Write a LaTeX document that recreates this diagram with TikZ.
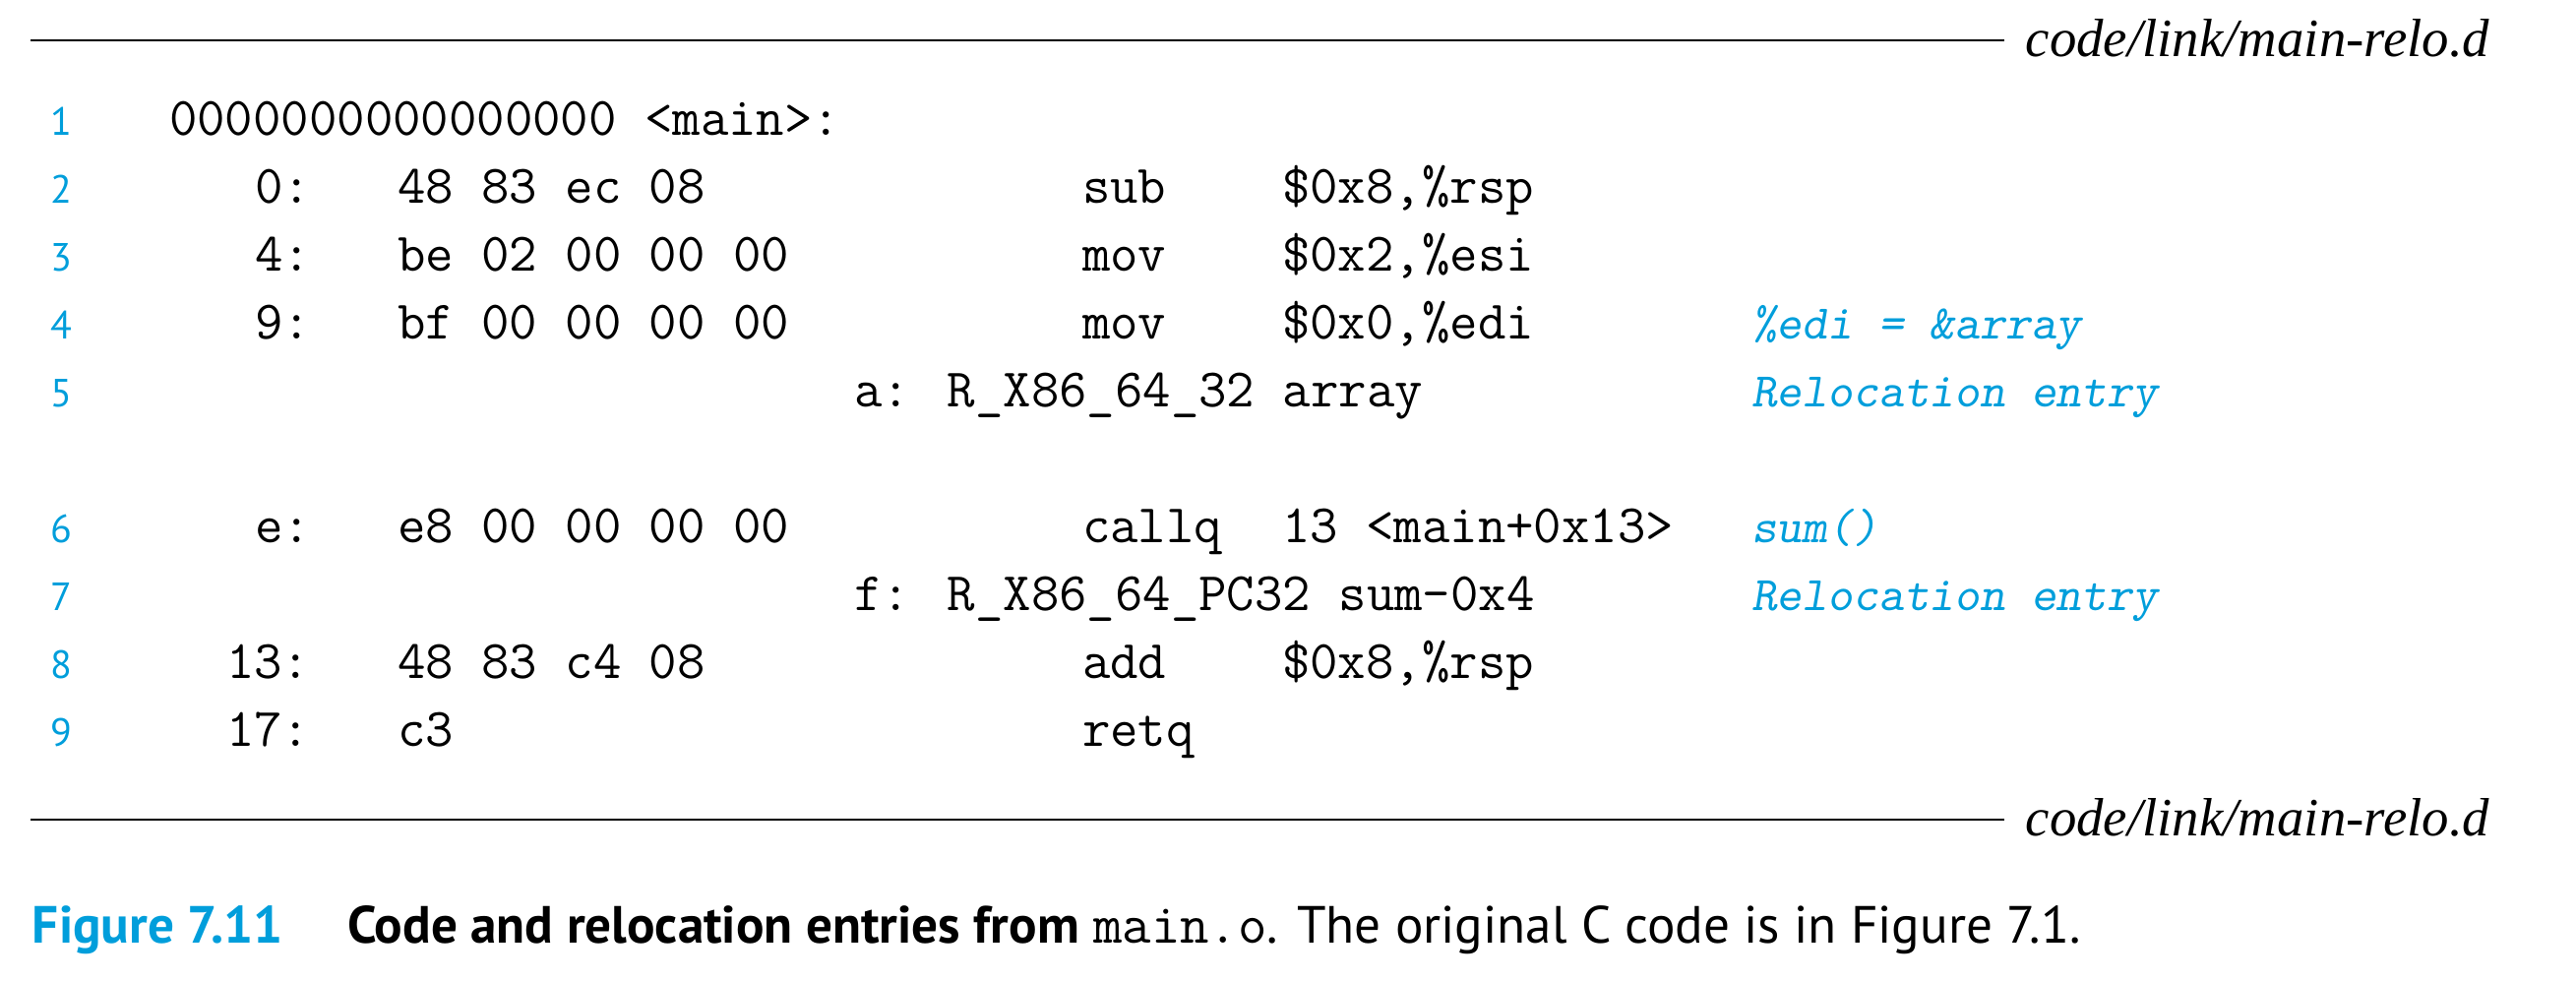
\documentclass[tikz,border=0pt]{standalone}
\usepackage{fontspec}
\usepackage{tikz}
\usetikzlibrary{positioning}
\newfontfamily\capfont{PT Sans}
\newfontfamily\filefont{Liberation Serif}
\definecolor{figblue}{RGB}{0,158,219}

\begin{document}
\begin{tikzpicture}[x=0.25pt,y=-0.25pt,
    every node/.style={inner sep=0pt,outer sep=0pt},
    code/.style={anchor=base west,font=\fontsize{13.8}{16}\selectfont\ttfamily},
    note/.style={anchor=base west,text=figblue,font=\fontsize{12.3}{15}\selectfont\ttfamily\slshape},
    lnum/.style={anchor=base,text=figblue,font=\fontsize{10}{12}\selectfont\capfont},
    file/.style={anchor=base east,font=\fontsize{13.7}{16}\selectfont\filefont\itshape},
    rule/.style={line width=0.65pt}]
    \useasboundingbox (0,0) rectangle (2618,996);

    % rules and file names
    \coordinate (topL) at (31,41);
    \coordinate (topR) at (2037,41);
    \coordinate (botL) at (31,833);
    \coordinate (botR) at (2037,833);
    \draw[rule] (topL) -- (topR);
    \draw[rule] (botL) -- (botR);
    \node[file] (filetop) at (2530,57) {code/link/main-relo.d};
    \node[file] (filebot) at (2530,849) {code/link/main-relo.d};

    % line numbers
    \foreach \n/\y in {1/137,2/206,3/275,4/344,5/413,6/551,7/620,8/689,9/758}
    \node[lnum] (ln\n) at (62,\y) {\n};

    \node[code] (r1addr) at (172,137) {0000000000000000 <main>:};

    \node[code] (r2addr) at (259,206) {0:};
    \node[code] (r2hex) at (404,206) {48 83 ec 08};
    \node[code] (r2op) at (1100,206) {sub};
    \node[code] (r2arg) at (1303,206) {\$0x8,\%rsp};

    \node[code] (r3addr) at (259,275) {4:};
    \node[code] (r3hex) at (404,275) {be 02 00 00 00};
    \node[code] (r3op) at (1100,275) {mov};
    \node[code] (r3arg) at (1303,275) {\$0x2,\%esi};

    \node[code] (r4addr) at (259,344) {9:};
    \node[code] (r4hex) at (404,344) {bf 00 00 00 00};
    \node[code] (r4op) at (1100,344) {mov};
    \node[code] (r4arg) at (1303,344) {\$0x0,\%edi};

    \node[code] (r5rel) at (868,413) {a: R\_X86\_64\_32 array};

    \node[code] (r6addr) at (259,551) {e:};
    \node[code] (r6hex) at (404,551) {e8 00 00 00 00};
    \node[code] (r6op) at (1100,551) {callq};
    \node[code] (r6arg) at (1303,551) {13 <main+0x13>};

    \node[code] (r7rel) at (868,620) {f: R\_X86\_64\_PC32 sum-0x4};

    \node[code] (r8addr) at (230,689) {13:};
    \node[code] (r8hex) at (404,689) {48 83 c4 08};
    \node[code] (r8op) at (1100,689) {add};
    \node[code] (r8arg) at (1303,689) {\$0x8,\%rsp};

    \node[code] (r9addr) at (230,758) {17:};
    \node[code] (r9hex) at (404,758) {c3};
    \node[code] (r9op) at (1100,758) {retq};

    % notes
    \node[note] (r4note) at (1780,344) {\%edi = \&array};
    \node[note] (r5note) at (1780,413) {Relocation entry};
    \node[note] (r6note) at (1780,551) {sum()};
    \node[note] (r7note) at (1780,620) {Relocation entry};

    % caption
    \node[anchor=base west,text=figblue,font=\fontsize{13.3}{16}\selectfont\capfont\bfseries] (figno) at (33,958) {Figure 7.11};
    \node[anchor=base west,font=\fontsize{13.3}{16}\selectfont\capfont] (figcap) at (353,958)
      {\textbf{Code and relocation entries from} {\fontsize{14.3}{16}\selectfont\ttfamily main.o}. The original C code is in Figure 7.1.};
\end{tikzpicture}
\end{document}
